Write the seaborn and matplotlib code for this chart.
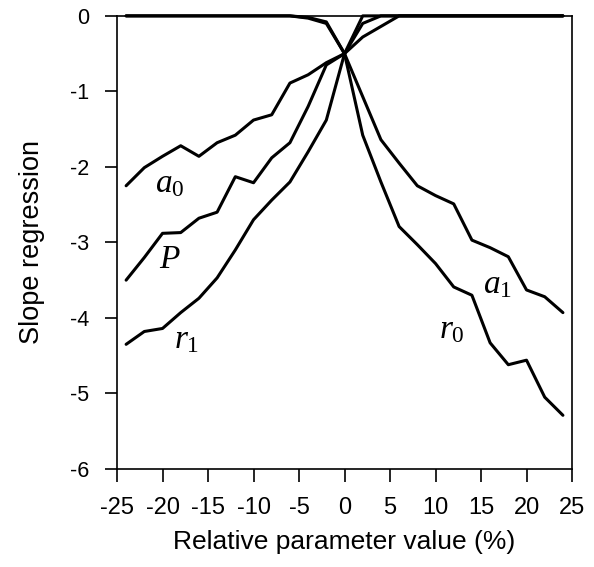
import numpy as np
import pandas as pd
import matplotlib
matplotlib.use("Agg")
import matplotlib.pyplot as plt
import seaborn as sns

# Data
x_vals = [-24, -22, -20, -18, -16, -14, -12, -10, -8, -6, -4, -2, 0,
          2, 4, 6, 8, 10, 12, 14, 16, 18, 20, 22, 24]
a0 = [-2.25, -2.01, -1.86, -1.72, -1.86, -1.68, -1.58, -1.38, -1.31, -0.89, -0.78, -0.62, -0.5,
      -0.28, -0.14, 0, 0, 0, 0, 0, 0, 0, 0, 0, 0]
P = [-3.5, -3.2, -2.88, -2.87, -2.68, -2.6, -2.13, -2.21, -1.88, -1.68, -1.2, -0.65, -0.5,
     -0.1, 0, 0, 0, 0, 0, 0, 0, 0, 0, 0, 0]
r1 = [-4.35, -4.18, -4.14, -3.93, -3.74, -3.47, -3.1, -2.7, -2.44, -2.2, -1.8, -1.38, -0.5,
      0, 0, 0, 0, 0, 0, 0, 0, 0, 0, 0, 0]
a1 = [0, 0, 0, 0, 0, 0, 0, 0, 0, 0, -0.03, -0.1, -0.5,
      -1.07, -1.64, -1.95, -2.25, -2.38, -2.49, -2.97, -3.07, -3.19, -3.63, -3.72, -3.93]
r0 = [0, 0, 0, 0, 0, 0, 0, 0, 0, 0, -0.02, -0.08, -0.5,
      -1.58, -2.2, -2.79, -3.03, -3.28, -3.59, -3.7, -4.33, -4.62, -4.56, -5.05, -5.29]

series_names = [r"$a_0$", r"$P$", r"$r_1$", r"$a_1$", r"$r_0$"]
label_x = [-19.2, -19.2, -17.4, 16.8, 11.8]
label_y = [-2.22, -3.23, -4.29, -3.56, -4.16]

x_ticks = [-25, -20, -15, -10, -5, 0, 5, 10, 15, 20, 25]
y_ticks = [0, -1, -2, -3, -4, -5, -6]

sns.set_style("ticks")
plt.rcParams["font.family"] = ["Liberation Sans", "DejaVu Sans"]
plt.rcParams["mathtext.fontset"] = "custom"
plt.rcParams["mathtext.rm"] = "Liberation Serif"
plt.rcParams["mathtext.it"] = "Liberation Serif:italic"

df = pd.DataFrame({"x": x_vals, "a0": a0, "P": P, "r1": r1, "a1": a1, "r0": r0})
long = df.melt(id_vars="x", var_name="series", value_name="y")

fig = plt.figure(figsize=(5.94, 5.67), dpi=100)
ax = fig.add_axes([0.197, 0.173, 0.766, 0.799])

sns.lineplot(data=long, x="x", y="y", units="series", estimator=None,
             color="black", linewidth=2.2, ax=ax, legend=False)
for line in ax.get_lines():
    line.set_clip_on(False)

for name, lx, ly in zip(series_names, label_x, label_y):
    ax.text(lx, ly, name, fontsize=24, ha="center", va="center", color="black")

ax.set_xlim(-25, 25)
ax.set_ylim(-6, 0)
ax.set_xticks(x_ticks)
ax.set_yticks(y_ticks)
ax.set_xticklabels([str(t) for t in x_ticks])
ax.set_yticklabels([str(t) for t in y_ticks])
ax.tick_params(axis="both", direction="out", length=9, width=1.2,
               colors="black", labelcolor="black")
ax.tick_params(axis="x", labelsize=17, pad=11)
ax.tick_params(axis="y", labelsize=15.5, pad=11)
for s in ax.spines.values():
    s.set_visible(True)
    s.set_linewidth(1.2)
    s.set_color("black")
ax.set_xlabel("Relative parameter value (%)", fontsize=19, labelpad=8, color="black")
ax.set_ylabel("Slope regression", fontsize=19.5, labelpad=18, color="black")

fig.savefig("out.png", dpi=100)
